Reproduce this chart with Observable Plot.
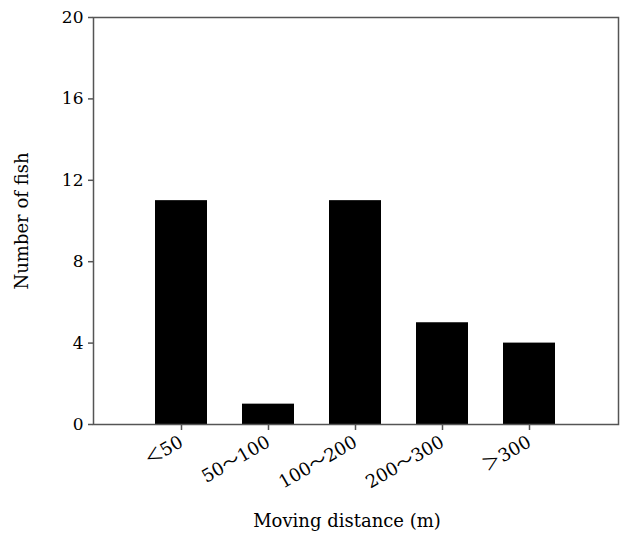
<!DOCTYPE html>
<html>
<head>
<meta charset="utf-8">
<script src="https://cdn.jsdelivr.net/npm/d3@7"></script>
<script src="https://cdn.jsdelivr.net/npm/@observablehq/plot@0.6"></script>
<style>
  html, body { margin: 0; padding: 0; background: #fff; }
  #chart svg { display: block; }
</style>
</head>
<body>
<div id="chart"></div>
<script>
const categories = ["＜50", "50～100", "100～200", "200～300", "＞300"];
const counts = [11, 1, 11, 5, 4];
const yTicks = [0, 4, 8, 12, 16, 20];
const xTitle = "Moving distance (m)";
const yTitle = "Number of fish";

const data = categories.map((c, i) => ({category: c, count: counts[i]}));
const font = "'DejaVu Serif', 'Noto Sans CJK SC', serif";
const cjkFont = "'Noto Sans CJK SC', 'DejaVu Serif', serif";
const axisColor = "#555";

const chart = Plot.plot({
  width: 621,
  height: 536,
  marginLeft: 93,
  marginRight: 3,
  marginTop: 17,
  marginBottom: 112,
  style: {fontFamily: font, fontSize: "16px", color: "#000", background: "#fff"},
  x: {domain: categories, paddingInner: 0.4, paddingOuter: 0.7, label: null},
  y: {domain: [0, 20], label: null},
  marks: [
    Plot.barY(data, {x: "category", y: "count", fill: "#000"}),
    Plot.frame({stroke: axisColor, strokeWidth: 1.5}),
    Plot.axisY({ticks: yTicks, tickSize: 5, tickPadding: 5, stroke: axisColor, strokeWidth: 1.5, label: null, fill: "#000", fontSize: 17}),
    Plot.axisX({tickSize: 6, tickPadding: 10, tickRotate: -30, stroke: axisColor, strokeWidth: 1.5, label: null, fill: "#000", fontSize: 18}),
    Plot.text([yTitle], {frameAnchor: "left", text: d => d, rotate: -90, dx: -71, textAnchor: "middle", lineAnchor: "middle", fontSize: 18, fill: "#000"}),
    Plot.text([xTitle], {frameAnchor: "bottom", text: d => d, dx: -9, dy: 97, textAnchor: "middle", lineAnchor: "middle", fontSize: 18, fill: "#000"})
  ]
});

// render full-width symbols (＜ ～ ＞) with a CJK font so they keep their full width
d3.select(chart).selectAll('g[aria-label="x-axis tick label"] text').each(function() {
  const el = d3.select(this);
  const s = el.text();
  el.text(null);
  for (const ch of s) {
    const wide = /[\uFF00-\uFFEF]/.test(ch);
    el.append("tspan").style("font-family", wide ? cjkFont : font).text(ch);
  }
});

document.getElementById("chart").appendChild(chart);
</script>
</body>
</html>
